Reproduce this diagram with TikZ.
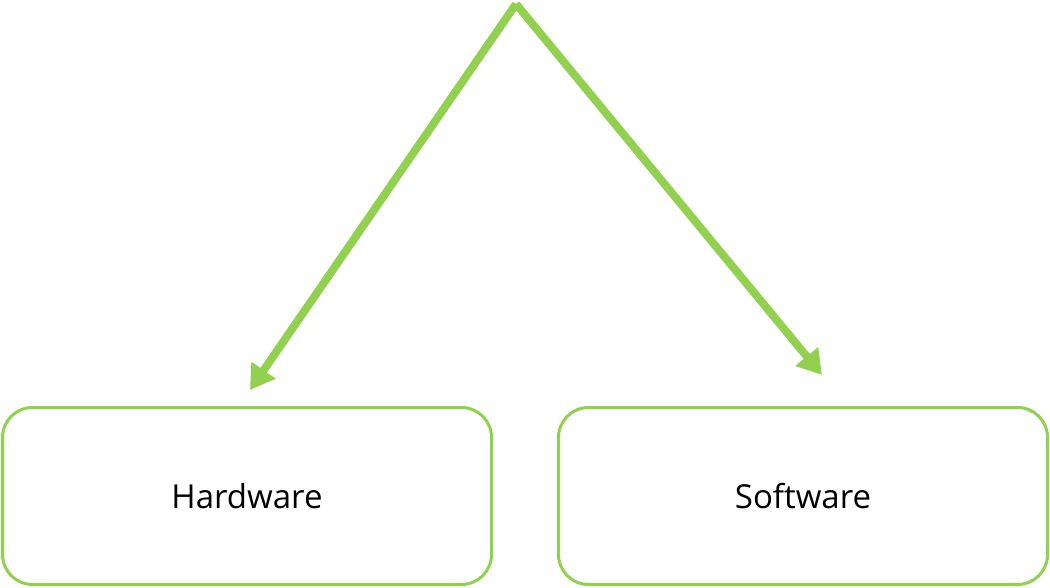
\documentclass[tikz,border=0pt]{standalone}
\usepackage{fontspec}
\setmainfont{Open Sans}
\usetikzlibrary{arrows.meta}
\definecolor{lgreen}{HTML}{92D050}
\begin{document}
\begin{tikzpicture}[x=1pt,y=-1pt,
  box/.style={draw=lgreen,line width=3pt,rounded corners=30pt,minimum width=489pt,minimum height=177pt,inner sep=0pt,font=\fontsize{33}{40}\selectfont},
  arr/.style={draw=lgreen,line width=8pt,-{Triangle[length=24pt,width=28pt]}}]
\useasboundingbox (0,0) rectangle (1050,588);
\node[box] (hw) at (247,496) {Hardware};
\node[box] (sw) at (803,496) {Software};
\coordinate (top) at (516,4);
\coordinate (t1) at (250,390);
\coordinate (t2) at (822,375);
\draw[arr] (top) -- (t1);
\draw[arr] (top) -- (t2);
\end{tikzpicture}
\end{document}
